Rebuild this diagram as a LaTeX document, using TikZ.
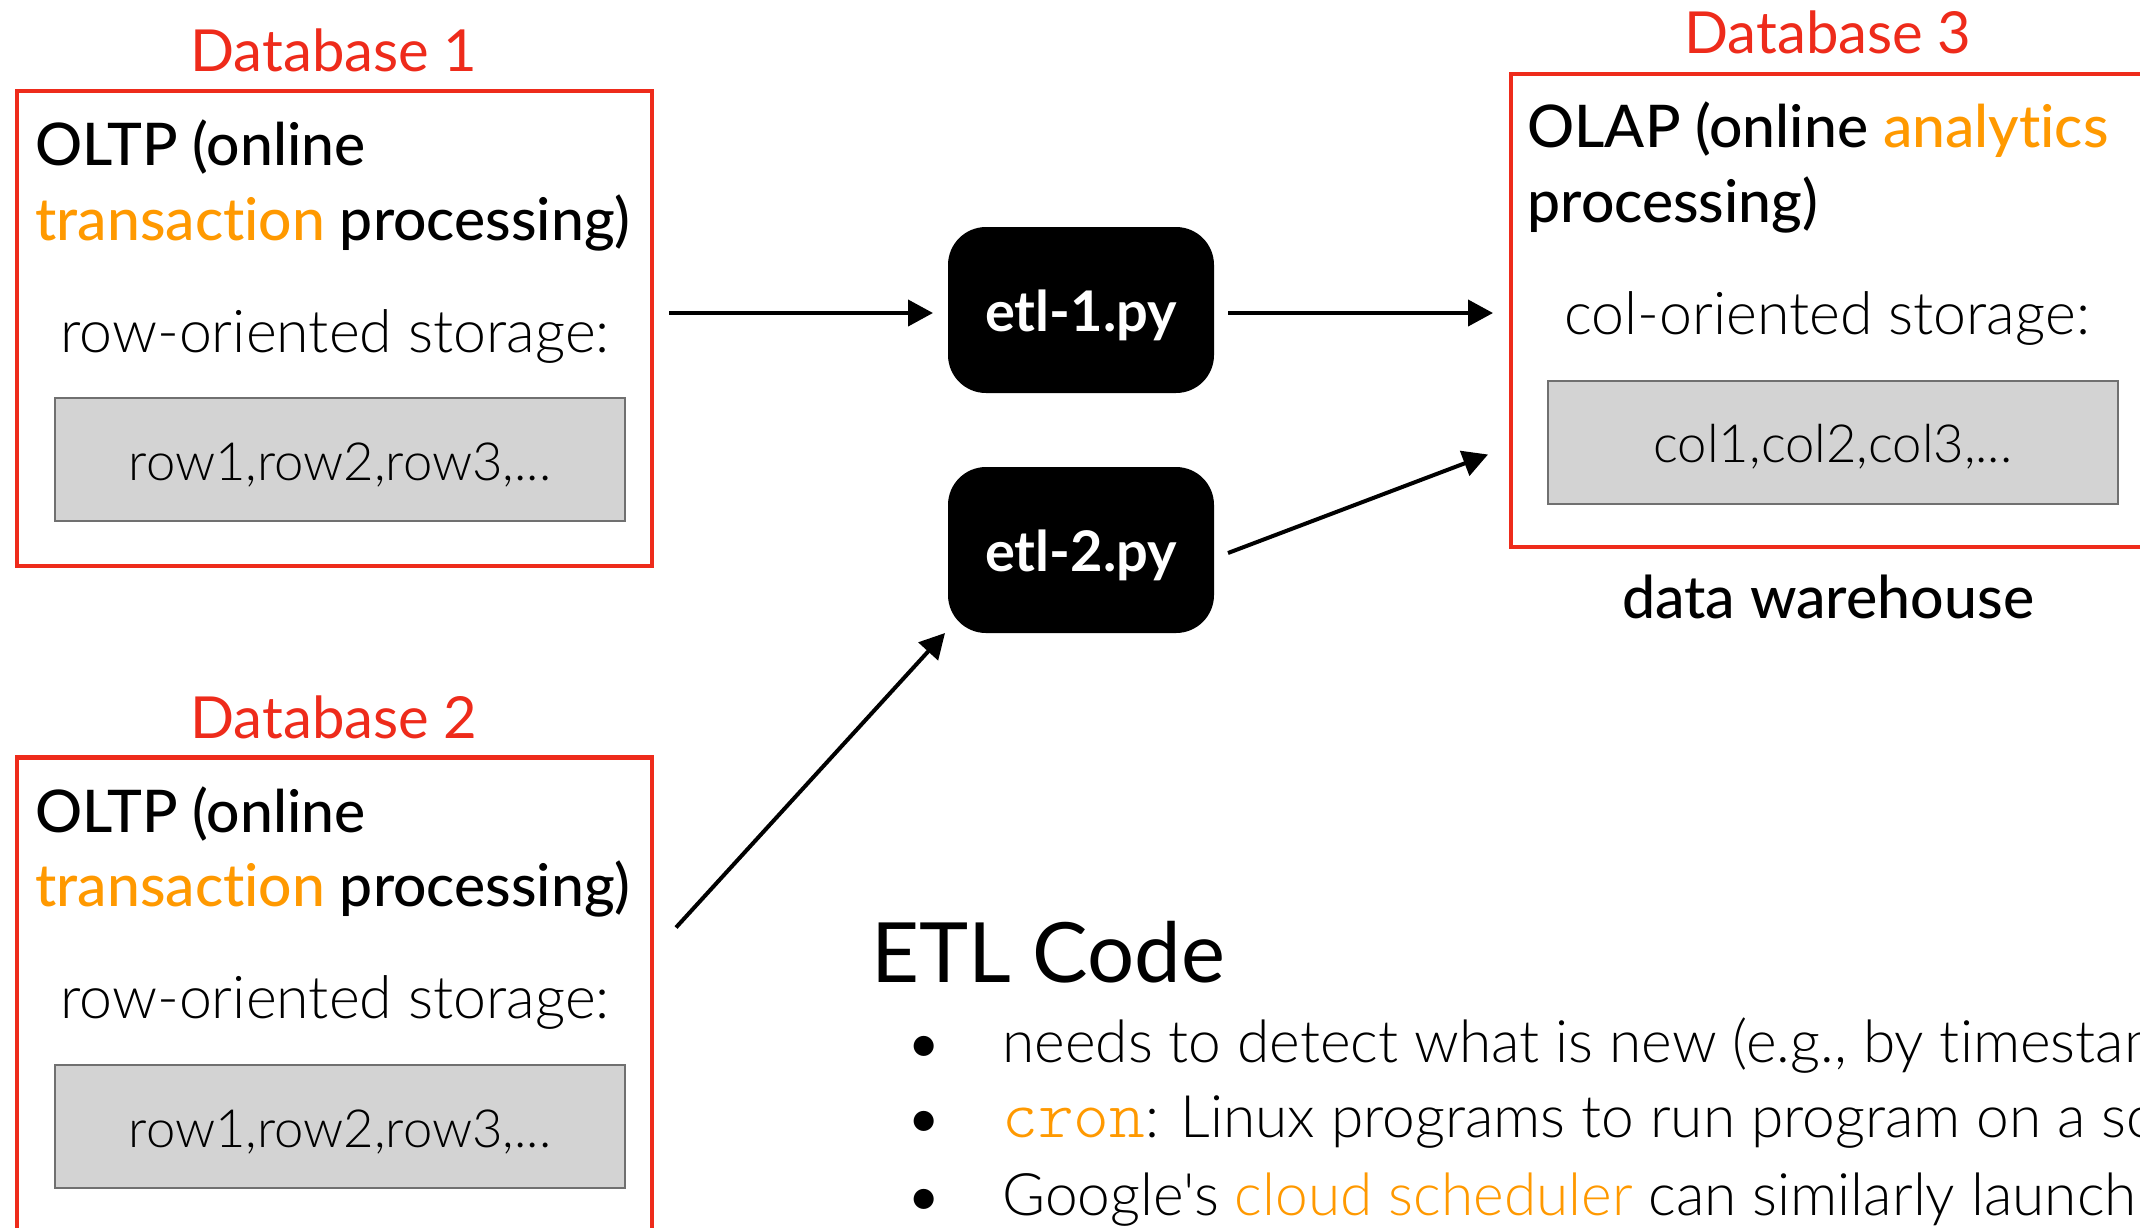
\documentclass[tikz,border=0pt]{standalone}
\usepackage{fontspec}
\setmainfont{Lato}[Ligatures={NoCommon}]
\IfFontExistsTF{Lato Light}{\newfontfamily\lightfont{Lato Light}[Ligatures={NoCommon}]}{\newfontfamily\lightfont{Lato}[Ligatures={NoCommon}]}
\IfFontExistsTF{Lato Medium}{\newfontfamily\medfont{Lato Medium}[Ligatures={NoCommon}]}{\newfontfamily\medfont{Lato}[Ligatures={NoCommon}]}
\IfFontExistsTF{Latin Modern Mono Light}{\newfontfamily\codefont{Latin Modern Mono Light}}{\newcommand\codefont{\ttfamily}}
\usetikzlibrary{arrows.meta,calc}
\definecolor{dbred}{HTML}{EE2B1B}
\definecolor{hlorange}{HTML}{FF9900}
\definecolor{boxgray}{HTML}{D3D3D3}
\definecolor{boxedge}{HTML}{707070}
\tikzset{
  redbox/.style={draw=dbred, line width=2.25pt, inner sep=0pt, outer sep=0pt, anchor=north west, rectangle},
  graybox/.style={draw=boxedge, fill=boxgray, line width=1pt, inner sep=0pt, outer sep=0pt, anchor=north west, minimum width=285pt, minimum height=61.5pt},
  etlbox/.style={fill=black, rounded corners=19pt, minimum width=133pt, minimum height=83pt, inner sep=0pt, outer sep=0pt, anchor=north west,
     text=white, font=\bfseries\fontsize{28}{32}\selectfont, text height=21pt, text depth=0pt},
  arr/.style={-{Triangle[length=12.5pt,width=13pt]}, line width=2pt},
  dblabel/.style={anchor=base, text=dbred, font=\fontsize{29}{34}\selectfont, inner sep=0pt},
  titletext/.style={anchor=base west, font=\medfont\fontsize{29.4}{34}\selectfont, inner sep=0pt},
  storetext/.style={anchor=base, font=\lightfont\fontsize{29.5}{34}\selectfont, inner sep=0pt},
  celltext/.style={anchor=base, font=\lightfont\fontsize{26.3}{30}\selectfont, inner sep=0pt},
  bullettext/.style={anchor=base west, font=\lightfont\fontsize{29.3}{34}\selectfont, inner sep=0pt},
  bulletmark/.style={anchor=base, font=\fontsize{27}{32}\selectfont, inner sep=0pt},
}
\begin{document}
\begin{tikzpicture}[x=0.5pt,y=-0.5pt]
\path[use as bounding box, clip] (0,0) rectangle (2140,1227);
\fill[white] (0,0) rectangle (2140,1227);

% Database 1
\node[dblabel] (db1lab) at (334,71) {Database 1};
\node[redbox, minimum width=317.5pt, minimum height=237.5pt] (db1) at (17,91) {};
\node[titletext] (db1t1) at (35,165) {OLTP (online};
\node[titletext] (db1t2) at (35,240) {\textcolor{hlorange}{transaction} processing)};
\node[storetext] (db1s) at (335,352) {row-oriented storage:};
\node[graybox] (db1g) at (55,398) {};
\node[celltext] (db1c) at (340,480) {row1,row2,row3,...};

% Database 2
\node[dblabel] (db2lab) at (334,738) {Database 2};
\node[redbox, minimum width=317.5pt, minimum height=300pt] (db2) at (17,757.5) {};
\node[titletext] (db2t1) at (35,832) {OLTP (online};
\node[titletext] (db2t2) at (35,906) {\textcolor{hlorange}{transaction} processing)};
\node[storetext] (db2s) at (335,1018) {row-oriented storage:};
\node[graybox] (db2g) at (55,1065) {};
\node[celltext] (db2c) at (340,1147) {row1,row2,row3,...};

% Database 3
\node[dblabel] (db3lab) at (1828,53) {Database 3};
\node[redbox, minimum width=344.5pt, minimum height=236.5pt] (db3) at (1511,74) {};
\node[titletext] (db3t1) at (1527,147) {OLAP (online \textcolor{hlorange}{analytics}};
\node[titletext] (db3t2) at (1527,222) {processing)};
\node[storetext] (db3s) at (1827,334) {col-oriented storage:};
\node[graybox] (db3g) at (1548,381) {};
\node[celltext] (db3c) at (1833,462) {col1,col2,col3,...};
\node[anchor=base, font=\medfont\fontsize{29.5}{34}\selectfont, inner sep=0pt] (dw) at (1828,618) {data warehouse};

% ETL scripts
\node[etlbox] (etl1) at (948,227) {etl-1.py};
\node[etlbox] (etl2) at (948,467) {etl-2.py};

% Connectors
\draw[arr] ($(db1.east |- etl1.west)+(17,3)$) -- ($(etl1.west)+(-15,3)$);
\draw[arr] ($(etl1.east)+(14,3)$) -- ($(db3.west |- etl1.west)+(-18,3)$);
\draw[arr] ($(etl2.east)+(14,3)$) -- ($(db3.west)+(-23,144)$);
\draw[arr] ($(db2.north east)+(24,170)$) -- ($(etl2.south west)+(-3,0)$);

% ETL Code notes
\node[anchor=base west, font=\fontsize{41.6}{48}\selectfont, inner sep=0pt] (etlhead) at (871,982) {ETL Code};
\node[bulletmark] (b1) at (924,1062) {•};
\node[bulletmark] (b2) at (924,1137) {•};
\node[bulletmark] (b3) at (924,1215) {•};
\node[bullettext] (l1) at (1002,1062) {needs to detect what is new (e.g., by timestamp)};
\node[bullettext] (l2) at (1002,1137) {\textcolor{hlorange}{\codefont\fontsize{34}{36}\selectfont cron}: Linux programs to run program on a schedule};
\node[bullettext] (l3) at (1002,1215) {Google's \textcolor{hlorange}{cloud scheduler} can similarly launch};
\end{tikzpicture}
\end{document}
